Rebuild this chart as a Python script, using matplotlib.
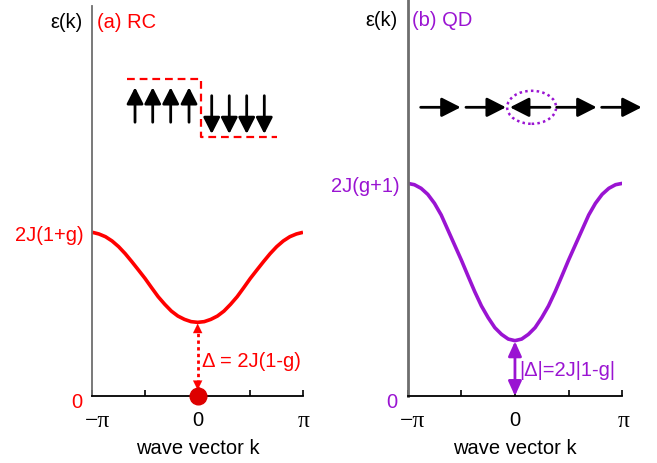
import numpy as np
import matplotlib
matplotlib.use("Agg")
import matplotlib.pyplot as plt
import matplotlib.transforms as mtransforms
from matplotlib.patches import Ellipse

plt.rcParams['font.family'] = ['Liberation Sans', 'DejaVu Sans']

# Wave vector samples over the Brillouin zone (units of pi)
k_over_pi = [-1.0, -0.9375, -0.875, -0.8125, -0.75, -0.6875, -0.625, -0.5625,
             -0.5, -0.4375, -0.375, -0.3125, -0.25, -0.1875, -0.125, -0.0625,
             0.0,
             0.0625, 0.125, 0.1875, 0.25, 0.3125, 0.375, 0.4375, 0.5,
             0.5625, 0.625, 0.6875, 0.75, 0.8125, 0.875, 0.9375, 1.0]

# Dispersion eps(k) / 2J for the two phases
eps_rc = [1.378, 1.364, 1.341, 1.305, 1.257, 1.198, 1.131, 1.061, 0.990,
          0.912, 0.836, 0.772, 0.715, 0.673, 0.645, 0.626, 0.620,
          0.626, 0.645, 0.673, 0.715, 0.772, 0.836, 0.912, 0.990,
          1.061, 1.131, 1.198, 1.257, 1.305, 1.341, 1.364, 1.378]
eps_qd = [1.587, 1.577, 1.550, 1.505, 1.438, 1.351, 1.239, 1.127, 1.015,
          0.896, 0.779, 0.672, 0.585, 0.510, 0.460, 0.425, 0.413,
          0.425, 0.460, 0.510, 0.585, 0.672, 0.779, 0.896, 1.015,
          1.127, 1.239, 1.351, 1.438, 1.505, 1.550, 1.577, 1.587]

x_tick_vals = [-np.pi, -np.pi / 2, 0, np.pi / 2, np.pi]
x_tick_text = ['\u2212\u03c0', '', '0', '', '\u03c0']

RED = '#ff0000'
DOT_RED = '#dd0000'
PURPLE = '#9a14d2'
FS = 14.5

fig = plt.figure(figsize=(6.57, 4.64), dpi=100)
axA = fig.add_axes([0.1405, 0.1444, 0.3207, 0.8405])
axB = fig.add_axes([0.6205, 0.1444, 0.3266, 0.8556])


def shift(artist, dx_px, dy_px):
    artist.set_transform(artist.get_transform() +
                         mtransforms.Affine2D().translate(dx_px, dy_px))


def style_axis(ax, ymax, color, spine_w):
    ax.set_xlim(-np.pi, np.pi)
    ax.set_ylim(0, ymax)
    for s in ('top', 'right'):
        ax.spines[s].set_visible(False)
    ax.spines['left'].set_color('#6e6e6e')
    ax.spines['left'].set_linewidth(spine_w)
    ax.spines['bottom'].set_color('black')
    ax.spines['bottom'].set_linewidth(1.3)
    ax.set_xticks(x_tick_vals)
    ax.set_xticklabels(x_tick_text, fontsize=FS)
    ax.tick_params(axis='x', direction='in', length=4, width=1.2, pad=10,
                   colors='black')
    labs = ax.get_xticklabels()
    for lab in labs:
        if '\u03c0' in lab.get_text():
            lab.set_fontfamily('Liberation Serif')
            lab.set_fontsize(17)
    shift(labs[0], 5, 0)
    shift(labs[-1], 1, 0)
    ax.set_xlabel('wave vector k', fontsize=FS, labelpad=5)
    ax.tick_params(axis='y', length=0, pad=6, labelsize=FS, colors=color)


k = np.array(k_over_pi) * np.pi

# ---- (a) RC ----
emax_a = max(eps_rc)
emin_a = min(eps_rc)
style_axis(axA, 3.283, RED, 1.3)
axA.set_yticks([0, emax_a])
axA.set_yticklabels(['0', '2J(1+g)'])
shift(axA.get_yticklabels()[0], -2, -4)
axA.plot(k, eps_rc, color=RED, lw=2.6, solid_joinstyle='round',
         solid_capstyle='butt')
axA.text(-0.044, 0.9615, 'ε(k)', transform=axA.transAxes, ha='right',
         va='center', fontsize=FS, color='black')
axA.text(0.022, 0.9615, '(a) RC', transform=axA.transAxes, ha='left',
         va='center', fontsize=FS, color=RED)

# gap arrow (dotted) between ground state and band minimum
axA.plot([0, 0], [0.05, emin_a - 0.05], color=RED, lw=2.0, ls=(0, (1.2, 1.2)))
head = dict(arrowstyle='-|>,head_length=0.45,head_width=0.22', color=RED,
            lw=0.1, shrinkA=0, shrinkB=0, mutation_scale=15)
axA.annotate('', xy=(0, emin_a - 0.01), xytext=(0, emin_a - 0.09),
             arrowprops=head)
axA.annotate('', xy=(0, 0.05), xytext=(0, 0.13), arrowprops=head)
axA.plot([0], [0], 'o', color=DOT_RED, ms=12, clip_on=False, zorder=5)
axA.text(0.519, 0.0905, 'Δ = 2J(1-g)', transform=axA.transAxes, ha='left',
         va='center', fontsize=FS, color=RED)

# spin cartoon: up domain and down domain with dashed outline
up_x = [0.2027, 0.2867, 0.372, 0.459]
dn_x = [0.5667, 0.650, 0.7327, 0.8163]
spin = dict(arrowstyle='-|>,head_length=0.55,head_width=0.28', color='black',
            lw=2.0, shrinkA=0, shrinkB=0, mutation_scale=18)
for xv in up_x:
    axA.annotate('', xy=(xv, 0.7915), xytext=(xv, 0.702),
                 xycoords='axes fraction', arrowprops=spin)
for xv in dn_x:
    axA.annotate('', xy=(xv, 0.672), xytext=(xv, 0.770),
                 xycoords='axes fraction', arrowprops=spin)
axA.plot([0.166, 0.5135, 0.5135, 0.875], [0.8128, 0.8128, 0.6633, 0.6633],
         transform=axA.transAxes, color=RED, lw=1.6, ls=(0, (3.5, 2.2)),
         clip_on=False)

# ---- (b) QD ----
emax_b = max(eps_qd)
emin_b = min(eps_qd)
style_axis(axB, 2.963, PURPLE, 2.0)
axB.set_yticks([0, emax_b])
axB.set_yticklabels(['0', '2J(g+1)'])
shift(axB.get_yticklabels()[0], -2, -4)
axB.plot(k, eps_qd, color=PURPLE, lw=2.6, solid_joinstyle='round',
         solid_capstyle='butt')
axB.text(-0.045, 0.9496, 'ε(k)', transform=axB.transAxes, ha='right',
         va='center', fontsize=FS, color='black')
axB.text(0.02, 0.9496, '(b) QD', transform=axB.transAxes, ha='left',
         va='center', fontsize=FS, color=PURPLE)

axB.annotate('', xy=(0, emin_b - 0.005), xytext=(0, 0.0),
             arrowprops=dict(arrowstyle='<|-|>,head_length=0.55,head_width=0.25',
                             color=PURPLE, lw=2.0, shrinkA=0, shrinkB=0,
                             mutation_scale=16))
axB.text(0.5186, 0.0655, '|Δ|=2J|1-g|', transform=axB.transAxes, ha='left',
         va='center', fontsize=FS, color=PURPLE)

# spin cartoon: chain with one flipped spin, circled
chain_spin = dict(spin, mutation_scale=21)
chain = [(0.0606, 0.247), (0.2717, 0.458), (0.663, 0.4767),
         (0.6943, 0.8807), (0.904, 1.0904)]
for tail, tip in chain:
    axB.annotate('', xy=(tip, 0.7272), xytext=(tail, 0.7272),
                 xycoords='axes fraction', arrowprops=chain_spin,
                 annotation_clip=False)
axB.add_patch(Ellipse((0.5778, 0.7272), 0.2283, 0.0831,
                      transform=axB.transAxes, fill=False, edgecolor=PURPLE,
                      lw=1.8, ls=(0, (1.0, 1.3)), clip_on=False))

fig.savefig('out.png', dpi=100)
